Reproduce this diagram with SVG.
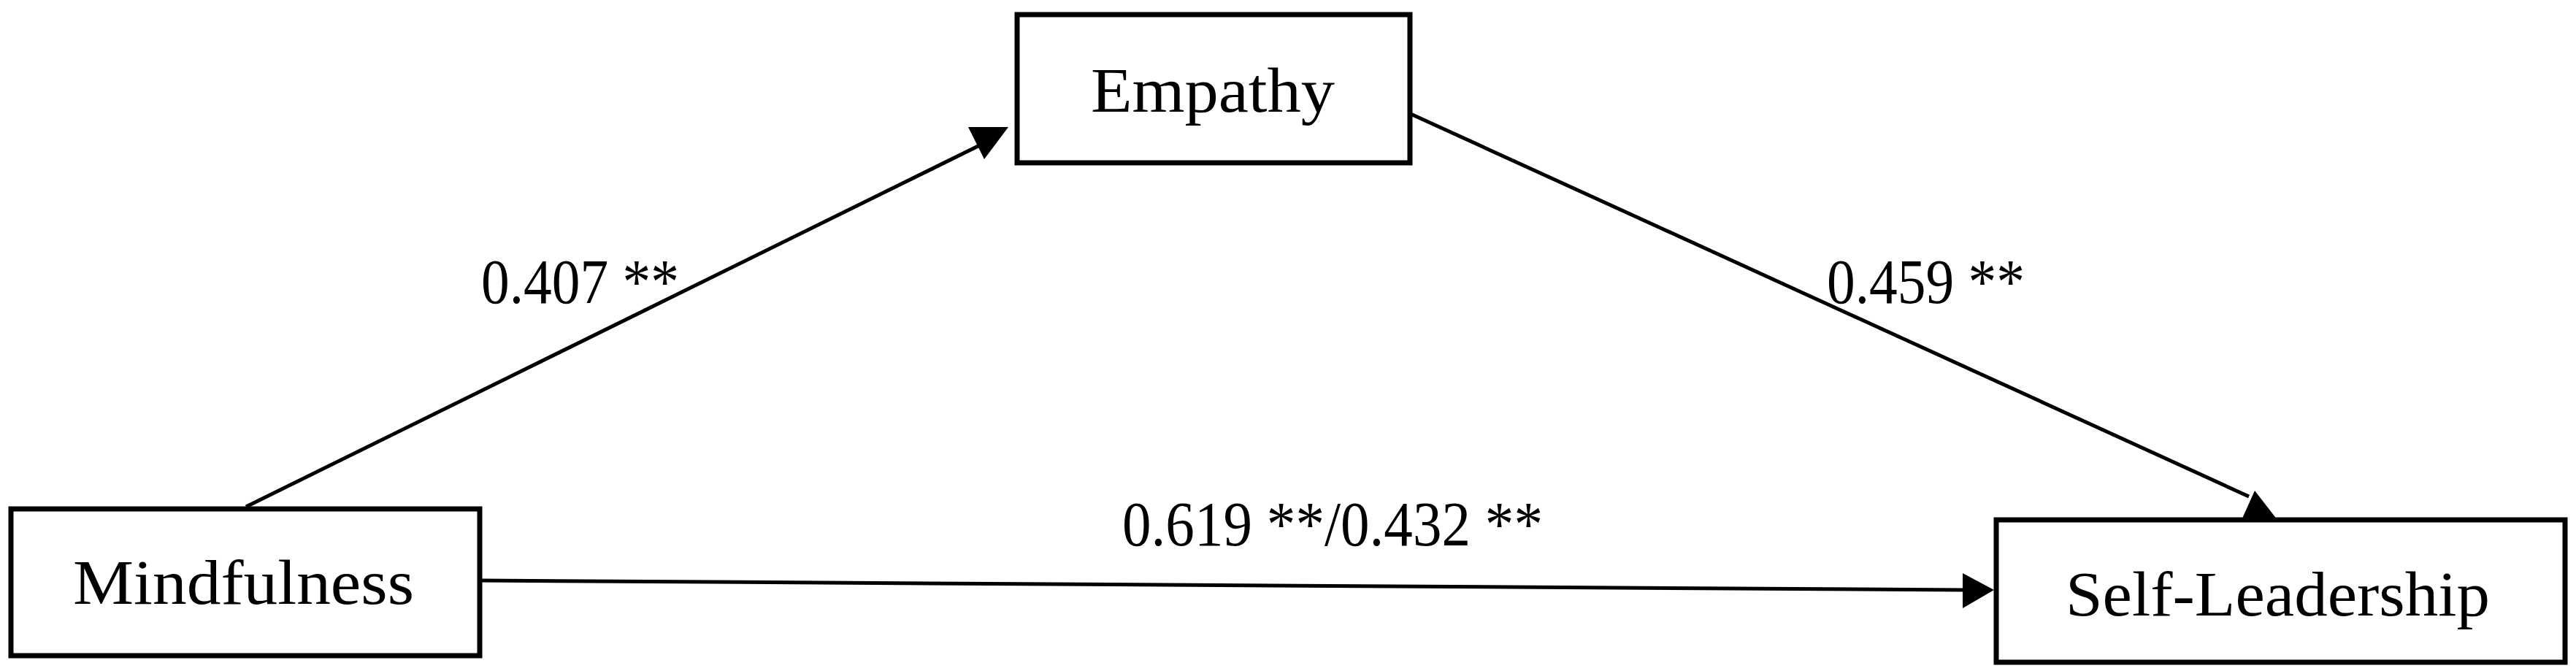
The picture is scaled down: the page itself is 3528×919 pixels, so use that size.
<svg xmlns="http://www.w3.org/2000/svg" width="3528" height="919" viewBox="0 0 3528 919">
<style>
.box{fill:#fff;stroke:#000;stroke-width:7}
.lbl{font-family:"Liberation Serif","Times New Roman",serif;font-size:86px;fill:#000}
.ln{stroke:#000;stroke-width:5;fill:none}
</style>
<rect width="3528" height="919" fill="#fff"/>
<g id="connectors">
<line class="ln" x1="337" y1="694" x2="1360" y2="190"/>
<polygon points="1326,174 1381,174 1348,218" fill="#000"/>
<line class="ln" x1="1932" y1="156" x2="3080" y2="680"/>
<polygon points="3088,672 3119,712 3070,712" fill="#000"/>
<line class="ln" x1="657" y1="795" x2="2690" y2="808" stroke-width="7"/>
<polygon points="2688,785 2731,808 2688,833" fill="#000"/>
<text class="lbl" x="659" y="415" textLength="271" lengthAdjust="spacingAndGlyphs">0.407 **</text>
<text class="lbl" x="2502" y="415" textLength="271" lengthAdjust="spacingAndGlyphs">0.459 **</text>
<text class="lbl" x="1537" y="747" textLength="576" lengthAdjust="spacingAndGlyphs">0.619 **/0.432 **</text>
</g>
<g id="empathy">
<rect class="box" x="1393" y="20" width="538" height="203"/>
<text class="lbl" x="1494" y="153" textLength="334" lengthAdjust="spacingAndGlyphs">Empathy</text>
</g>
<g id="mindfulness">
<rect class="box" x="15" y="697" width="642" height="201"/>
<text class="lbl" x="100" y="827" textLength="467" lengthAdjust="spacingAndGlyphs">Mindfulness</text>
</g>
<g id="self-leadership">
<rect class="box" x="2734" y="712" width="779" height="195"/>
<text class="lbl" x="2829" y="843" textLength="581" lengthAdjust="spacingAndGlyphs">Self-Leadership</text>
</g>
</svg>
